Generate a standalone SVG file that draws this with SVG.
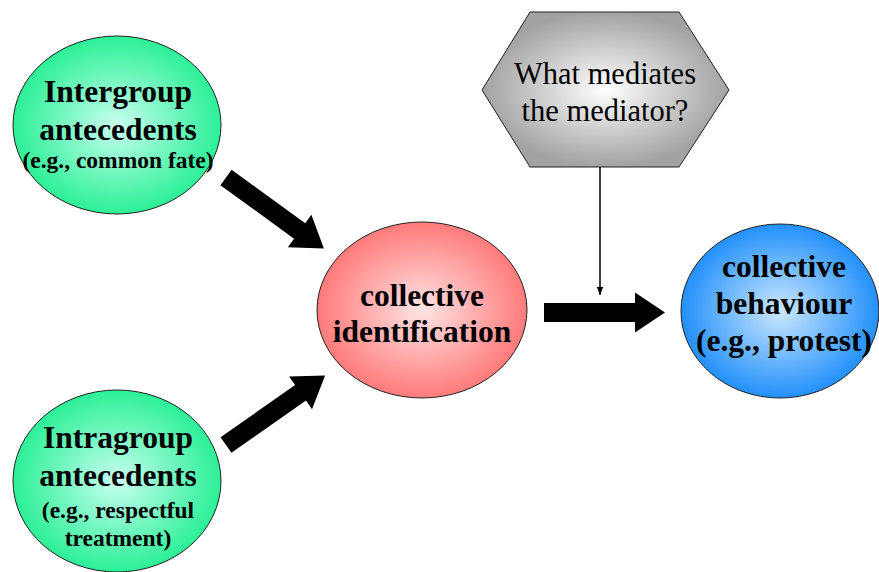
<svg xmlns="http://www.w3.org/2000/svg" width="879" height="572" viewBox="0 0 879 572">
<defs>
<radialGradient id="gGreen" cx="50%" cy="50%" r="50%">
<stop offset="0" stop-color="#c8fff0"/>
<stop offset="1" stop-color="#2cf096"/>
</radialGradient>
<radialGradient id="gRed" cx="50%" cy="50%" r="50%">
<stop offset="0" stop-color="#ffe4e4"/>
<stop offset="1" stop-color="#ff7a7a"/>
</radialGradient>
<radialGradient id="gBlue" cx="50%" cy="50%" r="50%">
<stop offset="0" stop-color="#cce8ff"/>
<stop offset="1" stop-color="#2290fa"/>
</radialGradient>
<radialGradient id="gGrey" cx="50%" cy="50%" r="50%">
<stop offset="0" stop-color="#ffffff"/>
<stop offset="1" stop-color="#a2a2a2"/>
</radialGradient>
<marker id="thinHead" viewBox="0 0 10 10" refX="10" refY="5" markerWidth="8" markerHeight="8" markerUnits="userSpaceOnUse" orient="auto">
<path d="M0,1 L10,5 L0,9 Z" fill="#000"/>
</marker>
<path id="bigArrow" d="M0,-9.5 L91,-9.5 L91,-20 L121,0 L91,20 L91,9.5 L0,9.5 Z"/>
</defs>
<style>
.node { stroke: #222; stroke-width: 1; }
text { font-family: "Liberation Serif", "Times New Roman", Tinos, "DejaVu Serif", serif; fill: #000; text-anchor: middle; }
.big { font-weight: bold; font-size: 31.5px; }
.small { font-weight: bold; font-size: 23.5px; }
.reg { font-weight: normal; font-size: 30.5px; }
</style>
<rect width="879" height="572" fill="#fff"/>
<g id="connectors">
<use href="#bigArrow" transform="translate(226,177.5) rotate(36)" fill="#000"/>
<use href="#bigArrow" transform="translate(226,445) rotate(-35)" fill="#000"/>
<use href="#bigArrow" transform="translate(544,312.5)" fill="#000"/>
<line x1="600" y1="167" x2="600" y2="295" stroke="#000" stroke-width="1.5" marker-end="url(#thinHead)"/>
</g>
<g id="intergroup">
<ellipse class="node" cx="117" cy="125" rx="104" ry="89" fill="url(#gGreen)"/>
<text class="big" x="118" y="102">Intergroup</text>
<text class="big" x="118" y="140">antecedents</text>
<text class="small" x="118" y="168">(e.g., common fate)</text>
</g>
<g id="intragroup">
<ellipse class="node" cx="117" cy="481" rx="104" ry="91" fill="url(#gGreen)"/>
<text class="big" x="118" y="448">Intragroup</text>
<text class="big" x="118" y="486">antecedents</text>
<text class="small" x="118" y="518">(e.g., respectful</text>
<text class="small" x="118" y="546">treatment)</text>
</g>
<g id="identification">
<ellipse class="node" cx="422" cy="310" rx="105" ry="88" fill="url(#gRed)"/>
<text class="big" x="422" y="306">collective</text>
<text class="big" x="422" y="342">identification</text>
</g>
<g id="behaviour">
<ellipse class="node" cx="780" cy="311" rx="99" ry="87" fill="url(#gBlue)"/>
<text class="big" x="784" y="277">collective</text>
<text class="big" x="784" y="314">behaviour</text>
<text class="big" x="784" y="351">(e.g., protest)</text>
</g>
<g id="mediator">
<polygon class="node" points="530,12 679,12 729,90 679,167 530,167 482,90" fill="url(#gGrey)"/>
<text class="reg" x="605" y="84">What mediates</text>
<text class="reg" x="605" y="121">the mediator?</text>
</g>
</svg>
